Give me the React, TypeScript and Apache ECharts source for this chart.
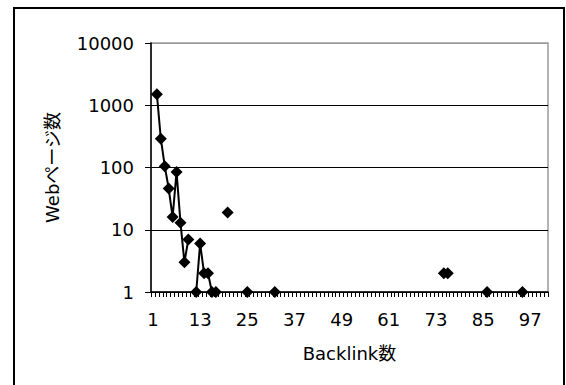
import React, { useEffect, useRef } from "react";
import * as echarts from "echarts";

// Backlink count categories 1..101 (axis index)
const categories: string[] = Array.from({ length: 101 }, (_, i) => String(i + 1));
// Observed points: backlink count -> number of web pages
const pointBacklinks = [2, 3, 4, 5, 6, 7, 8, 9, 10, 12, 13, 14, 15, 16, 17, 20, 25, 32, 75, 76, 86, 95];
const pointPages = [1500, 290, 105, 46, 16, 85, 13, 3, 7, 1, 6, 2, 2, 1, 1, 19, 1, 1, 2, 2, 1, 1];
const yTicks = [1, 10, 100, 1000, 10000];

const xTitle = "Backlink数";
const yTitle = "Webページ数";

export default function App() {
  const ref = useRef<HTMLDivElement>(null);
  useEffect(() => {
    if (!ref.current) return;
    const chart = echarts.init(ref.current, null, { renderer: "svg" });
    const values: (number | null)[] = categories.map(() => null);
    pointBacklinks.forEach((b, i) => {
      values[b - 1] = pointPages[i];
    });
    const font = "DejaVu Sans, Noto Sans CJK JP, sans-serif";
    chart.setOption({
      animation: false,
      backgroundColor: "#fff",
      graphic: [
        {
          type: "rect",
          shape: { x: 14, y: 8, width: 550, height: 400 },
          style: { fill: "none", stroke: "#000", lineWidth: 2 },
          z: 100,
        },
      ],
      grid: {
        left: 151,
        top: 43,
        right: 18,
        bottom: 93,
        show: true,
        borderColor: "#999",
        borderWidth: 1.5,
        backgroundColor: "transparent",
      },
      xAxis: {
        type: "category",
        data: categories,
        boundaryGap: true,
        name: xTitle,
        nameLocation: "middle",
        nameGap: 52,
        nameTextStyle: { color: "#000", fontSize: 18, fontFamily: font },
        axisLine: { show: true, lineStyle: { color: "#000", width: 1.5 } },
        axisTick: { show: true, interval: 0, length: 5, lineStyle: { color: "#000", width: 1 } },
        axisLabel: { interval: 11, color: "#000", fontSize: 18, fontFamily: font, margin: 18 },
        splitLine: { show: false },
      },
      yAxis: {
        type: "log",
        logBase: 10,
        min: yTicks[0],
        max: yTicks[yTicks.length - 1],
        name: yTitle,
        nameLocation: "middle",
        nameGap: 90,
        nameRotate: 90,
        nameTextStyle: { color: "#000", fontSize: 18, fontFamily: font },
        axisLine: { show: true, lineStyle: { color: "#000", width: 1.5 } },
        axisTick: { show: true, length: 6, lineStyle: { color: "#000", width: 1 } },
        axisLabel: {
          color: "#000",
          fontSize: 18,
          fontFamily: font,
          margin: 17,
          formatter: (v: number) => String(Math.round(v)),
        },
        splitLine: {
          show: true,
          lineStyle: { color: ["#000", "#000", "#000", "#000", "#999"], width: 1 },
        },
        minorTick: { show: false },
      },
      series: [
        {
          type: "line",
          data: values,
          connectNulls: false,
          showSymbol: true,
          showAllSymbol: true,
          symbol: "diamond",
          symbolSize: 12,
          itemStyle: { color: "#000" },
          lineStyle: { color: "#000", width: 2 },
        },
      ],
    });
    return () => chart.dispose();
  }, []);
  return (
    <div
      ref={ref}
      style={{ position: "fixed", left: 0, top: 0, width: 566, height: 385 }}
    />
  );
}
